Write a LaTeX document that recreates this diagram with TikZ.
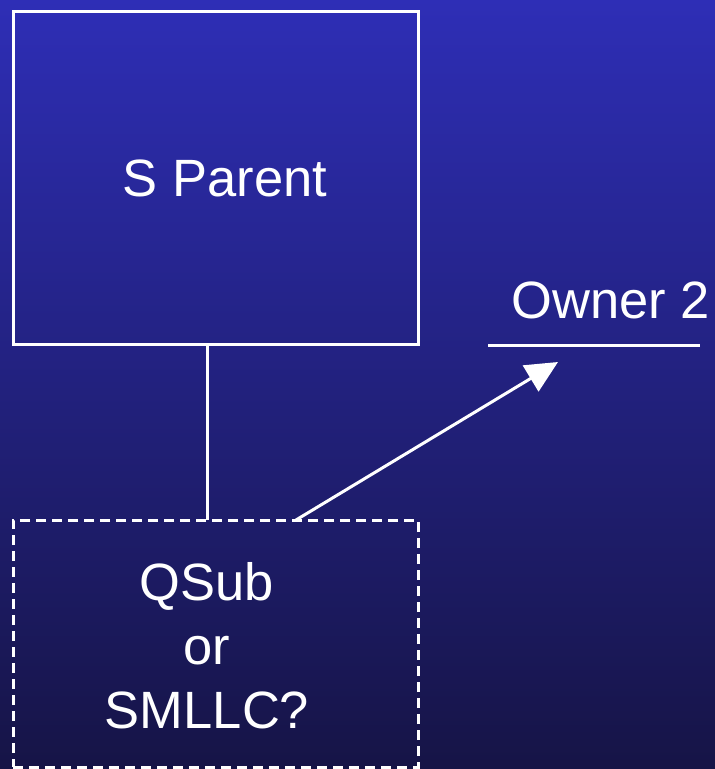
\documentclass[tikz,border=0pt]{standalone}
\usepackage{fontspec}
\setmainfont{Liberation Sans}
\usetikzlibrary{arrows.meta}
\definecolor{bgtop}{RGB}{46,46,182}
\definecolor{bgbot}{RGB}{22,20,70}
\tikzset{
  solidbox/.style={draw=white, line width=3pt, rectangle, inner sep=0pt},
  dashbox/.style={draw=white, line width=3pt, rectangle, inner sep=0pt, dash pattern=on 10pt off 6pt},
  lbl/.style={text=white, font=\fontsize{52.5}{64}\selectfont, align=center, inner sep=0pt},
  conn/.style={draw=white, line width=3pt},
}
\begin{document}
\begin{tikzpicture}[x=1pt,y=-1pt]
\shade[top color=bgtop, bottom color=bgbot] (0,0) rectangle (715,769);
\useasboundingbox (0,0) rectangle (715,769);
\node[solidbox, minimum width=405pt, minimum height=333pt] (sp) at (215.5,177.5) {};
\node[lbl] (sptext) at (225,178) {S Parent};
\node[dashbox, minimum width=405pt, minimum height=247pt] (qs) at (215.5,643.5) {};
\node[lbl] (qstext) at (207,646) {QSub\\or\\SMLLC?};
\node[lbl] (owner) at (611,300) {Owner 2};
\coordinate (ol) at (488,345);
\coordinate (or) at (700,345);
\draw[conn] (ol) -- (or);
\coordinate (spb) at (207,344);
\coordinate (qst) at (207,520);
\draw[conn] (spb) -- (qst);
\coordinate (as) at (296,520);
\coordinate (ae) at (558,362);
\draw[conn, -{Triangle[length=32pt,width=30pt]}] (as) -- (ae);
\end{tikzpicture}
\end{document}
